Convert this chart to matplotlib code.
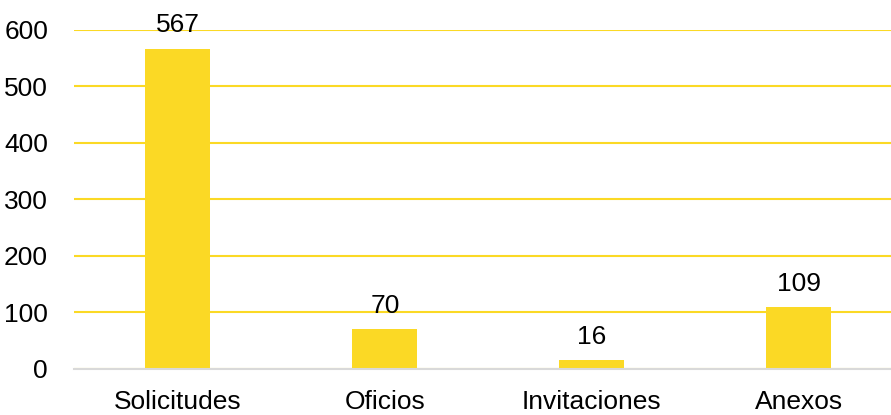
import matplotlib.pyplot as plt

categories = ["Solicitudes", "Oficios", "Invitaciones", "Anexos"]
values = [567, 70, 16, 109]
yticks = [0, 100, 200, 300, 400, 500, 600]

bar_color = "#FBD925"

plt.rcParams['font.family'] = ['Liberation Sans', 'DejaVu Sans']

fig = plt.figure(figsize=(8.91, 4.15), dpi=100)
# the plot area runs a little past the right edge of the picture
ax = fig.add_axes([0.0836, 0.111, 0.929, 0.817])

x = range(len(categories))
bars = ax.bar(x, values, width=0.314, color=bar_color, zorder=3)
for b, v in zip(bars, values):
    ax.annotate(str(v), (b.get_x() + b.get_width() / 2, v), xytext=(0, 8),
                textcoords='offset points', ha='center', va='bottom', fontsize=19, zorder=4)

ax.set_xlim(-0.5, len(categories) - 0.5)
ax.set_ylim(0, 600)
ax.set_yticks(yticks)
ax.set_xticks(list(x))
ax.set_xticklabels(categories)
ax.tick_params(axis='both', length=0, labelsize=19)
ax.tick_params(axis='y', pad=19)
ax.tick_params(axis='x', pad=15)

ax.grid(axis='y', color=bar_color, linewidth=1.5, zorder=0)
for side in ['top', 'right', 'left']:
    ax.spines[side].set_visible(False)
ax.spines['bottom'].set_color('#D9D9D9')
ax.spines['bottom'].set_linewidth(1.5)
ax.spines['bottom'].set_zorder(5)

fig.savefig('out.png', dpi=100)
